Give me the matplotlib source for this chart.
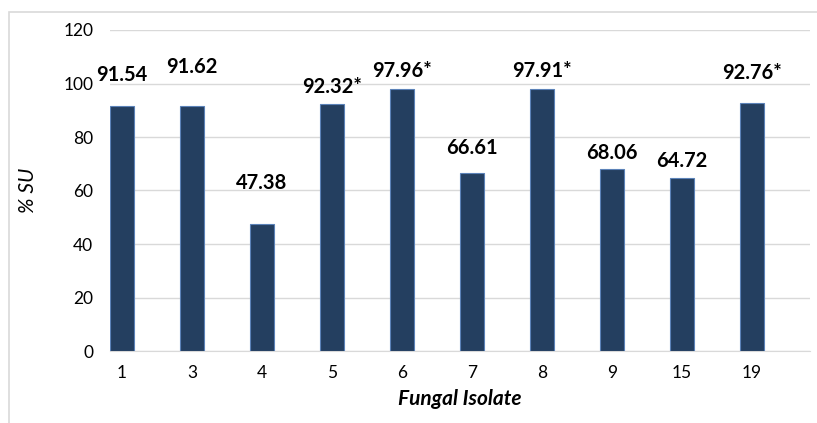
import matplotlib.pyplot as plt
from matplotlib.patches import Rectangle

isolates = ['1', '3', '4', '5', '6', '7', '8', '9', '15', '19']
su = [91.54, 91.62, 47.38, 92.32, 97.96, 66.61, 97.91, 68.06, 64.72, 92.76]
labels = ['91.54', '91.62', '47.38', '92.32*', '97.96*', '66.61', '97.91*', '68.06', '64.72', '92.76*']
# label heights as placed in the original (data units)
label_y = [103.2, 106.2, 62.8, 98.7, 104.7, 75.9, 104.7, 74.0, 71.0, 103.9]

plt.rcParams['font.family'] = ['Lato', 'DejaVu Sans']

fig = plt.figure(figsize=(8.17, 4.23), dpi=100)
ax = fig.add_axes([110/817, 1 - 351/423, 700/817, 321/423])

x = range(len(isolates))
ax.bar(x, su, width=0.34, color='#243f60', edgecolor='#5b82b8', linewidth=0.8, zorder=3)

for i, (lab, yy) in enumerate(zip(labels, label_y)):
    ax.text(i, yy, lab, ha='center', va='center', fontsize=14.5, fontweight='bold', color='black')

ax.set_xlim(-0.17, 9.83)
ax.set_ylim(0, 120)
ax.set_yticks(range(0, 121, 20))
ax.set_xticks(list(x))
ax.set_xticklabels(isolates)
ax.tick_params(length=0, labelsize=12.5, colors='black')
ax.tick_params(axis='y', pad=12)
ax.tick_params(axis='x', pad=10)
ax.grid(axis='y', color='#d9d9d9', linewidth=1, zorder=0)
for s in ['top', 'right', 'left']:
    ax.spines[s].set_visible(False)
ax.spines['bottom'].set_color('#d9d9d9')

ax.set_ylabel('% SU', fontsize=15, fontstyle='italic', labelpad=18)
ax.set_xlabel('Fungal Isolate', fontsize=15, fontstyle='italic', fontweight='bold', labelpad=6)

# chart frame
fig.patches.append(Rectangle((9/817, -0.1), 1.2, 1 - 12/423 + 0.1, transform=fig.transFigure,
                             fill=False, edgecolor='#d9d9d9', linewidth=1.2))

fig.savefig('out.png', dpi=100)
